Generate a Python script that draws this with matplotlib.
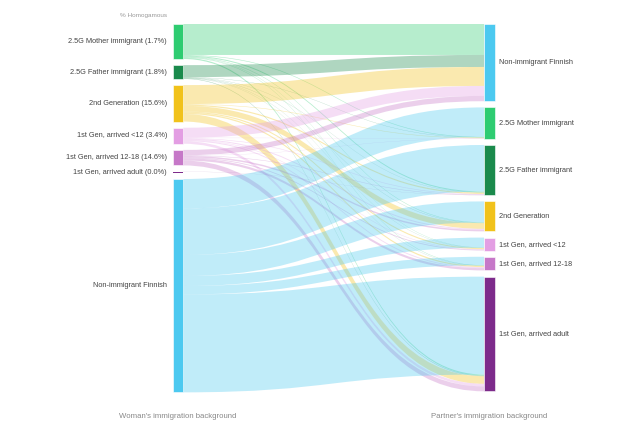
import matplotlib
matplotlib.use("Agg")
import matplotlib.pyplot as plt
from matplotlib.path import Path
from matplotlib.patches import PathPatch, Rectangle

plt.rcParams['font.family'] = ['Liberation Sans', 'DejaVu Sans']

# ---------------- data ----------------
left_names = ["2.5G Mother immigrant", "2.5G Father immigrant", "2nd Generation",
              "1st Gen, arrived <12", "1st Gen, arrived 12-18", "1st Gen, arrived adult",
              "Non-immigrant Finnish"]
homogamous_pct = [1.7, 1.8, 15.6, 3.4, 14.6, 0.0, None]
right_names = ["Non-immigrant Finnish", "2.5G Mother immigrant", "2.5G Father immigrant",
               "2nd Generation", "1st Gen, arrived <12", "1st Gen, arrived 12-18",
               "1st Gen, arrived adult"]
colors = {
    "Non-immigrant Finnish": "#4cc9f0",
    "2.5G Mother immigrant": "#2ecc71",
    "2.5G Father immigrant": "#1a8a4c",
    "2nd Generation": "#f1c21b",
    "1st Gen, arrived <12": "#e39ee3",
    "1st Gen, arrived 12-18": "#c678c8",
    "1st Gen, arrived adult": "#7d2b8b",
}
# flows[source][target] ; target order = right_names
flows_mother   = [31.0, 0.6, 1.0, 0.5, 0.3, 0.4, 1.2]
flows_father   = [12.0, 0.3, 0.25, 0.3, 0.2, 0.2, 0.5]
flows_second   = [19.0, 0.5, 1.2, 5.7, 1.2, 1.3, 7.6]
flows_lt12     = [10.0, 0.3, 0.6, 1.0, 0.5, 1.0, 2.6]
flows_12_18    = [5.3, 0.2, 0.5, 1.5, 0.8, 2.3, 4.9]
flows_adult    = [0.0, 0.0, 0.15, 0.0, 0.0, 0.0, 0.0]
flows_nonimm   = [0.0, 29.5, 46.6, 21.0, 10.0, 8.5, 98.0]
flows = [flows_mother, flows_father, flows_second, flows_lt12, flows_12_18,
         flows_adult, flows_nonimm]

left_title = "Woman's immigration background"
right_title = "Partner's immigration background"
top_note = "% Homogamous"

# ---------------- layout ----------------
W, H = 624, 425
fig = plt.figure(figsize=(W / 100, H / 100), dpi=100)
ax = fig.add_axes([0, 0, 1, 1])
ax.set_xlim(0, W)
ax.set_ylim(H, 0)
ax.axis("off")

top, bottom = 24, 392.5
gap = 6.2
xl0, xl1 = 173, 183
xr0, xr1 = 484, 495
min_h = 1.2

left_tot = [sum(r) for r in flows]
right_tot = [sum(flows[i][j] for i in range(len(flows))) for j in range(len(right_names))]
grand = sum(left_tot)

def layout(tots):
    n = len(tots)
    scale = (bottom - top - gap * (n - 1) - min_h) / grand
    ys = []
    y = top
    for t in tots:
        h = max(t * scale, min_h)
        ys.append((y, y + h))
        y += h + gap
    return ys, scale

lpos, scale = layout(left_tot)
rpos, _ = layout(right_tot)

# source offsets: flows ordered by target order
src_seg = {}
for i in range(len(flows)):
    y = lpos[i][0]
    for j in range(len(right_names)):
        h = flows[i][j] * scale
        src_seg[(i, j)] = (y, y + h)
        y += h

# target offsets: Non-immigrant source first, then others in order
nonimm_idx = left_names.index("Non-immigrant Finnish")
tgt_order = [nonimm_idx] + [i for i in range(len(flows)) if i != nonimm_idx]
tgt_seg = {}
for j in range(len(right_names)):
    y = rpos[j][0]
    for i in tgt_order:
        h = flows[i][j] * scale
        tgt_seg[(i, j)] = (y, y + h)
        y += h

xm = (xl1 + xr0) / 2
for i in range(len(flows)):
    col = colors[left_names[i]]
    for j in range(len(right_names)):
        if flows[i][j] <= 0:
            continue
        s0, s1 = src_seg[(i, j)]
        t0, t1 = tgt_seg[(i, j)]
        verts = [(xl1, s0), (xm, s0), (xm, t0), (xr0, t0),
                 (xr0, t1), (xm, t1), (xm, s1), (xl1, s1), (xl1, s0)]
        codes = [Path.MOVETO, Path.CURVE4, Path.CURVE4, Path.CURVE4,
                 Path.LINETO, Path.CURVE4, Path.CURVE4, Path.CURVE4, Path.CLOSEPOLY]
        ax.add_patch(PathPatch(Path(verts, codes), facecolor=col, edgecolor="none",
                               alpha=0.35, zorder=1))

def node(x0, x1, y0, y1, col):
    small = (y1 - y0) < 3
    ax.add_patch(Rectangle((x0, y0), x1 - x0, y1 - y0, facecolor=col,
                           edgecolor="none" if small else "white",
                           linewidth=0.4, zorder=3))

for i, name in enumerate(left_names):
    y0, y1 = lpos[i]
    node(xl0, xl1, y0, y1, colors[name])
    lab = name if homogamous_pct[i] is None else f"{name} ({homogamous_pct[i]:.1f}%)"
    ax.text(xl0 - 6, (y0 + y1) / 2, lab, ha="right", va="center",
            fontsize=5.3, color="#444444", zorder=4)

for j, name in enumerate(right_names):
    y0, y1 = rpos[j]
    node(xr0, xr1, y0, y1, colors[name])
    ax.text(xr1 + 4, (y0 + y1) / 2, name, ha="left", va="center",
            fontsize=5.3, color="#444444", zorder=4)

ax.text(xl0 - 6, 15.5, top_note, ha="right", va="center", fontsize=4.6, color="#999999")
ax.text(178, 417, left_title, ha="center", va="center", fontsize=5.6, color="#888888")
ax.text(489, 417, right_title, ha="center", va="center", fontsize=5.6, color="#888888")

fig.savefig("out.png", dpi=100, facecolor="white")
